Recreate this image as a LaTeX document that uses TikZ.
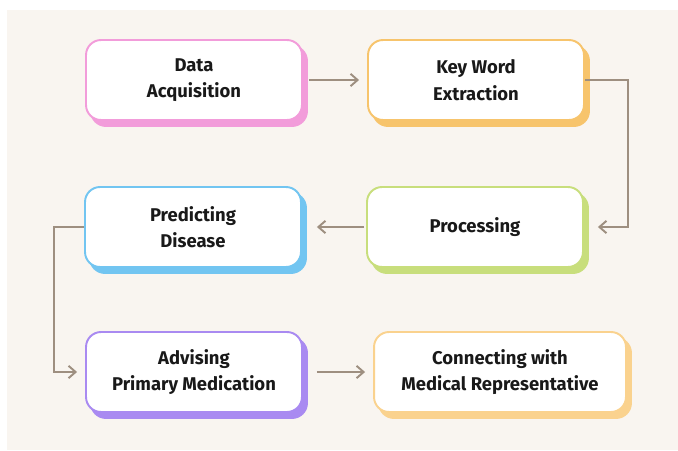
\documentclass[tikz,border=0pt]{standalone}
\usepackage{fontspec}
\setmainfont{Fira Sans}
\usetikzlibrary{positioning}
\usetikzlibrary{shadows, arrows.meta}

\definecolor{bgcream}{HTML}{F9F5F0}
\definecolor{flowline}{HTML}{9E8F80}
\definecolor{cpink}{HTML}{F29CDA}
\definecolor{corange}{HTML}{F7C46C}
\definecolor{cgreen}{HTML}{C8DE7C}
\definecolor{cblue}{HTML}{72C5F1}
\definecolor{cpurple}{HTML}{A98AF1}
\definecolor{cpeach}{HTML}{FAD28E}

\begin{document}
\begin{tikzpicture}[x=0.02cm,y=0.02cm,
  stage/.style={draw=#1, fill=white, line width=1.1pt, rounded corners=0.3cm,
    minimum width=4.32cm, minimum height=1.6cm, align=center,
    font=\bfseries\fontsize{10.5}{15}\selectfont, text=black!90,
    copy shadow={shadow xshift=0.1cm, shadow yshift=-0.12cm, fill=#1, draw=#1}},
  flow/.style={draw=flowline, line width=1.1pt, -{Straight Barb[length=4pt,width=7pt]}}]
\useasboundingbox (0,0) rectangle (678,450);
\fill[white] (0,0) rectangle (678,450);
\fill[bgcream] (7,0) rectangle (678,440);

% top row
\node[stage=cpink] (data) at (194,370) {Data\\Acquisition};
\node[stage=corange] (key) at (476,370) {Key Word\\Extraction};
% middle row
\node[stage=cgreen] (proc) at (475,223) {Processing};
\node[stage=cblue] (pred) at (193,223) {Predicting\\Disease};
% bottom row
\node[stage=cpurple] (advi) at (194,78) {Advising\\Primary Medication};
\node[stage=cpeach, minimum width=5.04cm] (conn) at (500,78) {Connecting with\\Medical Representative};

\draw[flow, shorten <=0.12cm, shorten >=0.16cm] (data) -- (key);
\draw[flow, shorten >=0.28cm] (key.east) -- ++(43,0) |- (proc.east);
\draw[flow, shorten <=0.04cm, shorten >=0.3cm] (proc) -- (pred);
\draw[flow, shorten >=0.16cm] (pred.west) -- ++(-30,0) |- (advi.west);
\draw[flow, shorten <=0.28cm, shorten >=0.16cm] (advi) -- (conn);

\end{tikzpicture}
\end{document}
